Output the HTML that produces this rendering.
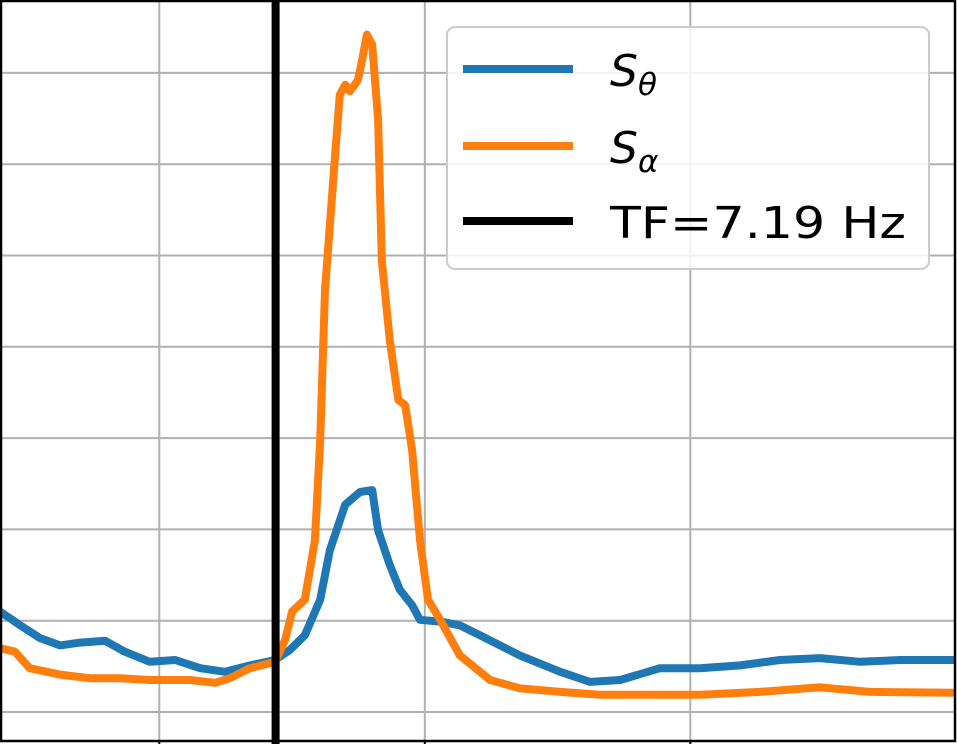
<!DOCTYPE html>
<html><head><meta charset="utf-8"><style>
html,body{margin:0;padding:0;background:#fff}
svg{display:block}
text{font-family:"DejaVu Sans","Liberation Sans",sans-serif}
</style></head><body>
<svg id="chart" width="957" height="744" viewBox="0 0 957 744" xmlns="http://www.w3.org/2000/svg">
<g id="grid"></g>
<g id="series"></g>
<rect x="1" y="1" width="954" height="740" fill="none" stroke="#000" stroke-width="2.5"/>
<g>
<rect x="447" y="27" width="482" height="242" rx="8" fill="#fff" fill-opacity="0.85" stroke="#ccc" stroke-width="2"/>
<line x1="463" y1="69" x2="573" y2="69" stroke="#1f77b4" stroke-width="8"/>
<text x="610" y="86" font-size="44" font-style="italic">S<tspan font-size="31" dy="9">θ</tspan></text>
<line x1="463" y1="146" x2="573" y2="146" stroke="#ff7f0e" stroke-width="8"/>
<text x="610" y="163" font-size="44" font-style="italic">S<tspan font-size="31" dy="9">α</tspan></text>
<line x1="463" y1="221" x2="573" y2="221" stroke="#000" stroke-width="8"/>
<text x="610" y="238" font-size="44" textLength="296" lengthAdjust="spacingAndGlyphs">TF=7.19 Hz</text>
</g>
</svg>
<script>
const xTicks=[5,10,15];
const yTicks=[0,1,2,3,4,5,6,7];
const tf=7.19;
const thetaF=[2.00,2.38,2.75,3.13,3.51,3.98,4.35,4.82,5.30,5.77,6.24,6.71,7.18,7.46,7.74,8.03,8.21,8.50,8.78,9.01,9.12,9.34,9.53,9.76,9.91,10.29,10.66,11.04,11.79,12.55,13.11,13.68,14.43,15.18,15.94,16.69,17.44,18.20,18.95,19.98];
const thetaV=[1.10,0.95,0.81,0.73,0.76,0.78,0.66,0.55,0.57,0.48,0.44,0.51,0.57,0.68,0.84,1.23,1.77,2.27,2.41,2.43,1.99,1.61,1.34,1.17,1.01,0.99,0.95,0.84,0.62,0.44,0.33,0.35,0.48,0.48,0.51,0.57,0.59,0.55,0.57,0.57];
const alphaF=[2.00,2.28,2.56,3.13,3.69,4.26,4.82,5.58,6.05,6.33,6.71,7.18,7.37,7.50,7.74,7.93,8.03,8.12,8.31,8.40,8.50,8.59,8.74,8.82,8.91,9.01,9.12,9.19,9.34,9.50,9.63,9.76,9.91,10.06,10.29,10.66,11.23,11.79,12.55,13.30,15.18,16.31,17.44,18.38,19.98];
const alphaV=[0.70,0.66,0.48,0.41,0.37,0.37,0.35,0.35,0.32,0.37,0.48,0.55,0.79,1.10,1.23,1.88,2.98,4.62,6.10,6.76,6.87,6.80,6.92,7.14,7.42,7.31,6.49,4.95,4.07,3.42,3.36,2.87,1.88,1.23,1.01,0.62,0.35,0.26,0.22,0.19,0.19,0.22,0.27,0.22,0.21];
const NS="http://www.w3.org/2000/svg";
const xs=f=>(f-2)*53.1;
const ys=v=>712-v*91.3;
const grid=document.getElementById('grid');
xTicks.forEach(t=>{
  const l=document.createElementNS(NS,'line');
  
  
  l.setAttribute('x1',xs(t));l.setAttribute('x2',xs(t));l.setAttribute('y1',0);l.setAttribute('y2',741);
  l.setAttribute('stroke','#b0b0b0');l.setAttribute('stroke-width','2');grid.appendChild(l);
  const k=document.createElementNS(NS,'line');
  
  
  k.setAttribute('x1',xs(t));k.setAttribute('x2',xs(t));k.setAttribute('y1',741);k.setAttribute('y2',744);
  k.setAttribute('stroke','#000');k.setAttribute('stroke-width','2');grid.appendChild(k);
});
yTicks.forEach(t=>{
  const l=document.createElementNS(NS,'line');
  
  
  l.setAttribute('x1',0);l.setAttribute('x2',955);l.setAttribute('y1',ys(t));l.setAttribute('y2',ys(t));
  l.setAttribute('stroke','#b0b0b0');l.setAttribute('stroke-width','2');grid.appendChild(l);
});
const ser=document.getElementById('series');
function line(F,V,color,name){
  const p=document.createElementNS(NS,'polyline');
  
  
  p.setAttribute('points',F.map((f,i)=>xs(f).toFixed(1)+','+ys(V[i]).toFixed(1)).join(' '));
  p.setAttribute('fill','none');p.setAttribute('stroke',color);p.setAttribute('stroke-width','8');
  p.setAttribute('stroke-linejoin','round');
  ser.appendChild(p);
}
line(thetaF,thetaV,'#1f77b4','s-theta-line');
line(alphaF,alphaV,'#ff7f0e','s-alpha-line');
const v=document.createElementNS(NS,'line');


v.setAttribute('x1',xs(tf));v.setAttribute('x2',xs(tf));v.setAttribute('y1',0);v.setAttribute('y2',744);
v.setAttribute('stroke','#000');v.setAttribute('stroke-width','8');
ser.appendChild(v);
</script>
</body></html>
